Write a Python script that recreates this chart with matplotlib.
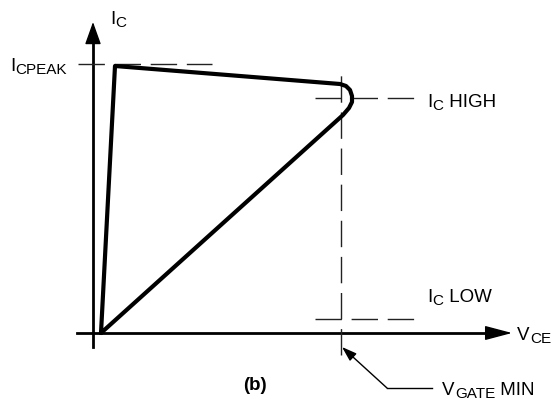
import matplotlib
matplotlib.use("Agg")
import matplotlib.pyplot as plt
from matplotlib import font_manager as fm
from matplotlib.patches import FancyArrowPatch

# schematic units: V_CE to the right, I_C upward (origin at the axes crossing)
curve_v = [8, 22, 247, 253, 257, 259, 259, 256, 250, 8]
curve_i = [0, 267, 249, 247, 243, 237, 231, 225, 218, 0]

i_peak = 269
i_high = 235
i_low = 14
v_gate_min = 248

peak_span = [-15, 119]
level_span = [222, 325]
gate_span = [-22, 266]

names = {f.name for f in fm.fontManager.ttflist}
if 'Liberation Sans Narrow' in names:
    base, fs, sfs = 'Liberation Sans Narrow', 14.5, 12
else:
    base, fs, sfs = 'Liberation Sans', 13.5, 11

plt.rcParams['font.family'] = [base, 'DejaVu Sans']

fig = plt.figure(figsize=(5.51, 4.03), dpi=100)
ax = fig.add_axes([0, 0, 1, 1])
ax.set_xlim(-93, 458)
ax.set_ylim(-70, 333)
ax.axis('off')


def sub_label(x, y, parts):
    # parts alternate: normal, subscript, normal, ...
    first = ax.text(x, y, parts[0], fontsize=fs, ha='left', va='baseline')
    prev = first
    for i, s in enumerate(parts[1:]):
        if i % 2 == 0:
            prev = ax.annotate(s, xy=(1, 0), xycoords=(prev, first), xytext=(0.2, -1.7),
                               textcoords='offset points', fontsize=sfs, ha='left', va='bottom')
        else:
            prev = ax.annotate(s, xy=(1, 0), xycoords=(prev, first), xytext=(0, 0),
                               textcoords='offset points', fontsize=fs, ha='left', va='bottom')


dash = dict(color='#222222', lw=1.0, dashes=(19, 7))

# axes with arrow heads
ax.plot([-16, 404], [0, 0], color='black', lw=2.0)
ax.plot([0, 0], [-14, 300], color='black', lw=2.0)
ax.add_patch(FancyArrowPatch((400, 0), (419, 0), arrowstyle='-|>,head_length=17,head_width=4.5',
                             color='black', lw=1.0, mutation_scale=1, shrinkA=0, shrinkB=0))
ax.add_patch(FancyArrowPatch((0, 295), (0, 311), arrowstyle='-|>,head_length=14,head_width=5',
                             color='black', lw=1.0, mutation_scale=1, shrinkA=0, shrinkB=0))

# reference levels
ax.plot(peak_span, [i_peak, i_peak], **dash)
ax.plot(level_span, [i_high, i_high], **dash)
ax.plot(level_span, [i_low, i_low], **dash)
ax.plot([v_gate_min, v_gate_min], gate_span, **dash)

# load line
ax.plot(curve_v, curve_i, color='black', lw=3.0, solid_joinstyle='round', solid_capstyle='round')

sub_label(17, 309, ['I', 'C'])
sub_label(-83, 262, ['I', 'CPEAK'])
sub_label(334, 226, ['I', 'C', ' HIGH'])
sub_label(334, 31, ['I', 'C', ' LOW'])
sub_label(424, -7, ['V', 'CE'])
sub_label(349, -62, ['V', 'GATE', ' MIN'])
ax.text(162, -57, '(b)', fontsize=fs, fontweight='bold', ha='center', va='baseline')

# pointer to V_GATE MIN
ax.plot([294, 339], [-55, -55], color='black', lw=1.0)
ax.add_patch(FancyArrowPatch((294, -55), (249, -14), arrowstyle='-|>,head_length=9,head_width=3',
                             color='black', lw=1.0, mutation_scale=1, shrinkA=0, shrinkB=0))

fig.savefig('out.png', dpi=100)
